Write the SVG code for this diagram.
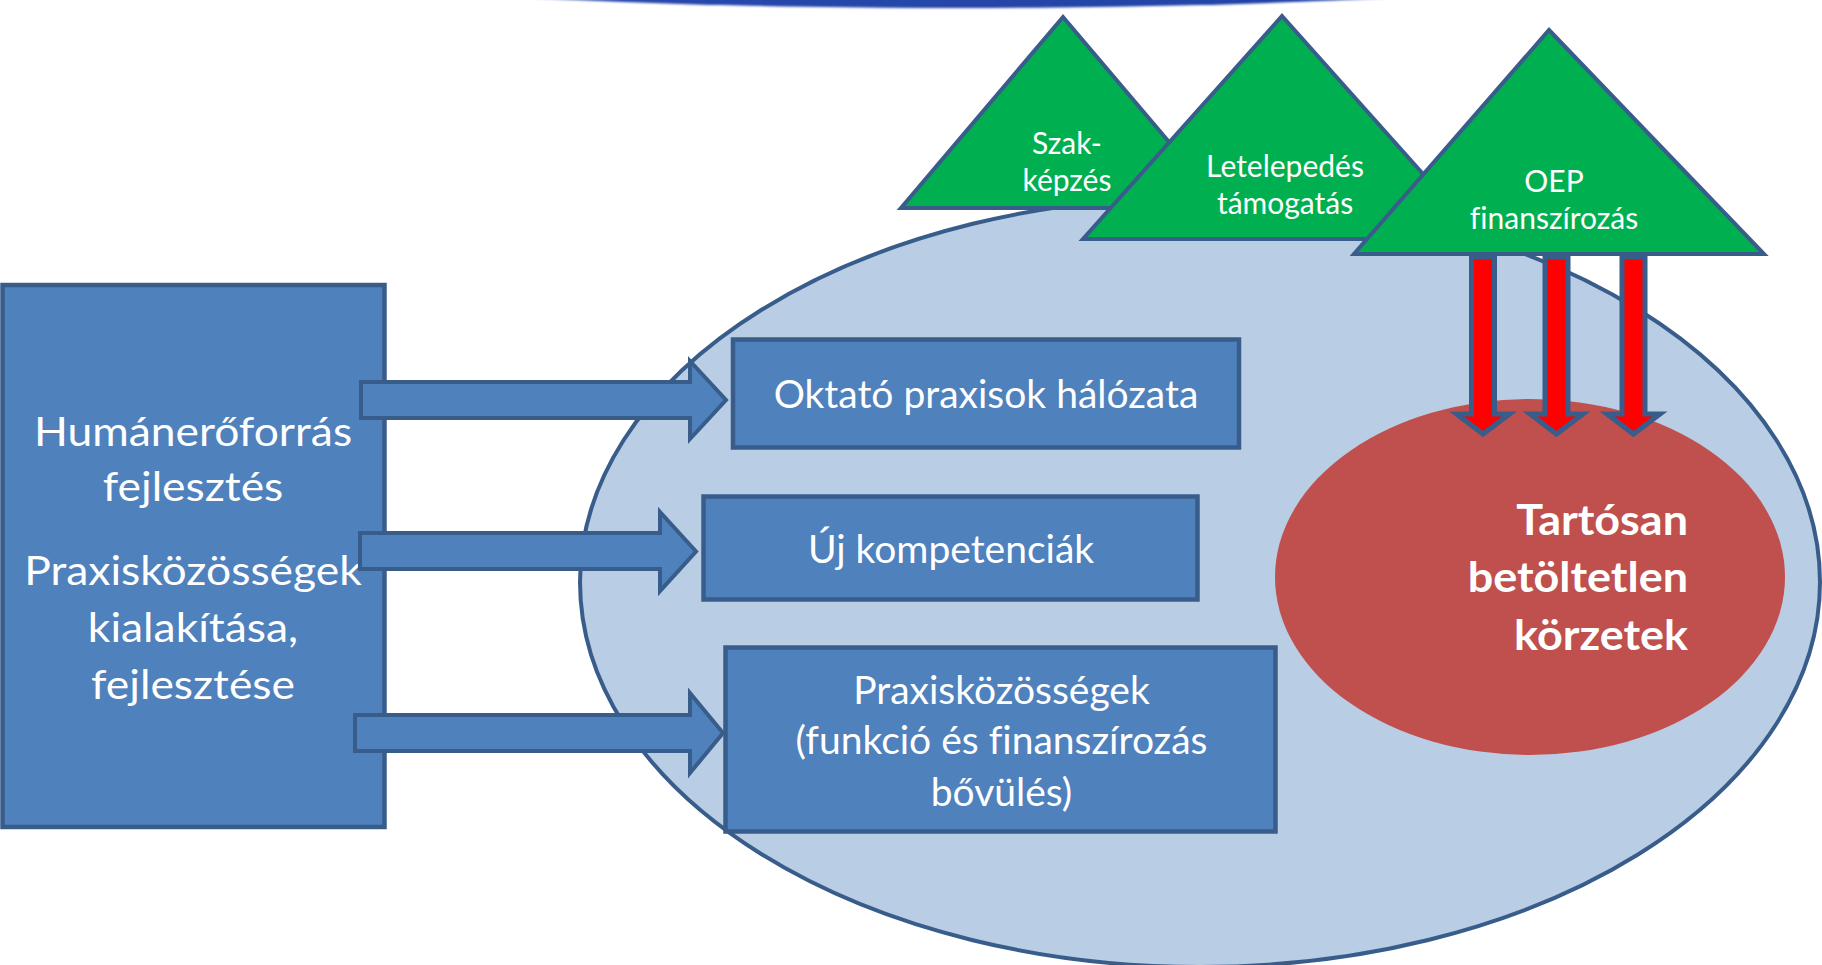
<svg xmlns="http://www.w3.org/2000/svg" width="1822" height="965" viewBox="0 0 1822 965">
<defs>
<linearGradient id="band" x1="0" y1="0" x2="1" y2="0">
<stop offset="0" stop-color="#5a78c8" stop-opacity="0.3"/>
<stop offset="0.2" stop-color="#2a49ad"/>
<stop offset="0.75" stop-color="#2243a6"/>
<stop offset="1" stop-color="#6f8fd6" stop-opacity="0.3"/>
</linearGradient>
<filter id="soft" x="-5%" y="-50%" width="110%" height="200%"><feGaussianBlur stdDeviation="0.8"/></filter>
</defs>
<style>
.box{fill:#4f81bd;stroke:#385d8a;stroke-width:4.5}
.tri{fill:#00b050;stroke:#385d8a;stroke-width:4;stroke-linejoin:miter}
.barrow{fill:#4f81bd;stroke:#385d8a;stroke-width:4}
.rarrow{fill:#ff0000;stroke:#385d8a;stroke-width:5}
.t{font-family:Lato,"Liberation Sans",sans-serif;fill:#ffffff;text-anchor:middle;font-variant-ligatures:none}
.lt{font-size:40px}
.bt{font-size:39px}
.tt{font-size:30px}
.rt{font-size:42px;font-weight:bold;text-anchor:end}
</style>
<rect width="1822" height="965" fill="#ffffff"/>
<ellipse cx="960" cy="-56" rx="790" ry="64" fill="url(#band)" filter="url(#soft)"/>

<g id="area">
<ellipse cx="1200" cy="582" rx="620" ry="385" fill="#b9cde5" stroke="#385d8a" stroke-width="4"/>
</g>

<g id="human">
<rect class="box" x="2.5" y="285" width="382" height="542"/>
<text class="t lt" transform="translate(193,446) scale(1.11,1)">Humánerőforrás</text>
<text class="t lt" transform="translate(193,501) scale(1.11,1)">fejlesztés</text>
<text class="t lt" transform="translate(193,585) scale(1.11,1)">Praxisközösségek</text>
<text class="t lt" transform="translate(193,642) scale(1.11,1)">kialakítása,</text>
<text class="t lt" transform="translate(193,699) scale(1.11,1)">fejlesztése</text>
</g>

<g id="korzetek">
<ellipse cx="1530" cy="577" rx="255" ry="178" fill="#c0504d"/>
<text class="t rt" transform="translate(1688,535) scale(1.07,1)">Tartósan</text>
<text class="t rt" transform="translate(1688,592) scale(1.07,1)">betöltetlen</text>
<text class="t rt" transform="translate(1688,650) scale(1.07,1)">körzetek</text>
</g>

<g id="oktato">
<rect class="box" x="733" y="339.5" width="506" height="108"/>
<text class="t bt" x="986" y="407.5">Oktató praxisok hálózata</text>
</g>

<g id="kompetenciak">
<rect class="box" x="703.5" y="496.5" width="494" height="103"/>
<text class="t bt" x="951" y="562.5">Új kompetenciák</text>
</g>

<g id="praxiskozossegek">
<rect class="box" x="725.5" y="647.5" width="550" height="184"/>
<text class="t bt" x="1001.5" y="704">Praxisközösségek</text>
<text class="t bt" x="1001.5" y="754">(funkció és finanszírozás</text>
<text class="t bt" x="1001.5" y="806">bővülés)</text>
</g>

<g id="connectors">
<polygon class="barrow" points="361,382 690,382 690,361 726,400 690,439 690,418 361,418"/>
<polygon class="barrow" points="360,533 660,533 660,512 696,551.5 660,591 660,569 360,569"/>
<polygon class="barrow" points="355,715 690,715 690,693 723,733 690,773 690,751 355,751"/>
</g>

<g id="szakkepzes">
<polygon class="tri" points="1063,17 1225,208 901,208"/>
<text class="t tt" x="1067" y="154">Szak-</text>
<text class="t tt" x="1067" y="191">képzés</text>
</g>

<g id="letelepedes">
<polygon class="tri" points="1282,16 1481,239 1083,239"/>
<text class="t tt" x="1285" y="177">Letelepedés</text>
<text class="t tt" x="1285" y="214">támogatás</text>
</g>

<g id="oep">
<polygon class="tri" points="1549,30 1764,254 1354,254"/>
<text class="t tt" x="1554" y="192">OEP</text>
<text class="t tt" x="1554" y="229">finanszírozás</text>
</g>

<g id="red-connectors">
<polygon class="rarrow" points="1471.5,257 1494.5,257 1494.5,414 1509.5,414 1483,434 1456.5,414 1471.5,414"/>
<polygon class="rarrow" points="1545,257 1568,257 1568,414 1583,414 1556.5,434 1530,414 1545,414"/>
<polygon class="rarrow" points="1622,257 1645,257 1645,414 1660,414 1633.5,434 1607,414 1622,414"/>
</g>
</svg>
